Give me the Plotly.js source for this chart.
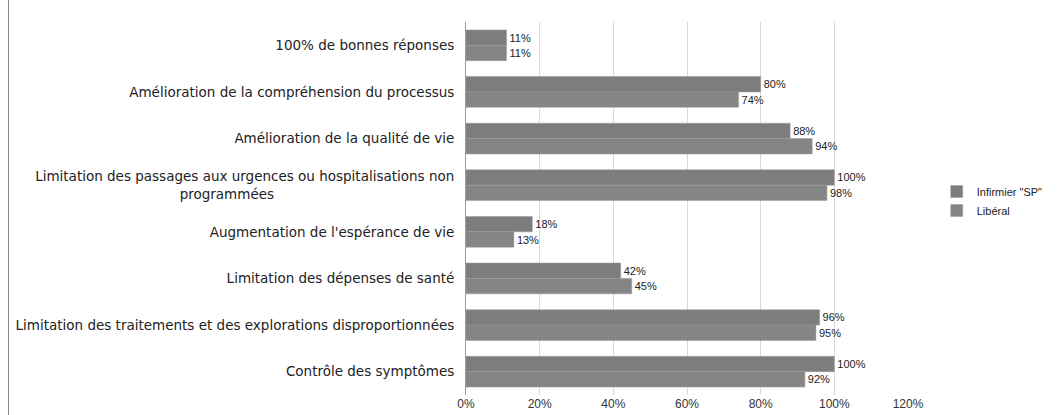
<!DOCTYPE html>
<html>
<head>
<meta charset="utf-8">
<script src="https://cdn.plot.ly/plotly-3.0.1.min.js"></script>
<style>
html,body{margin:0;padding:0;background:#fff;}
#frame{position:absolute;left:8px;top:0;width:1px;height:415px;background:#888;}
#chart{width:1060px;height:415px;}
</style>
</head>
<body>
<div id="chart"></div>
<div id="frame"></div>
<script>
const pad = '\u00a0'.repeat(42);
const categories = [
  "100% de bonnes réponses",
  "Amélioration de la compréhension du processus",
  "Amélioration de la qualité de vie",
  "Limitation des passages aux urgences ou hospitalisations non<br>programmées" + pad,
  "Augmentation de l'espérance de vie",
  "Limitation des dépenses de santé",
  "Limitation des traitements et des explorations disproportionnées",
  "Contrôle des symptômes"
];
const seriesNames = ["Infirmier \"SP\"", "Libéral"];
const valuesSP = [11, 80, 88, 100, 18, 42, 96, 100];
const valuesLib = [11, 74, 94, 98, 13, 45, 95, 92];
const tickVals = [0, 20, 40, 60, 80, 100, 120];
const tickText = ["0%", "20%", "40%", "60%", "80%", "100%", "120%"];

function mk(name, vals, color) {
  return {
    type: 'bar', orientation: 'h', name: name,
    x: vals, y: categories,
    text: vals.map(v => v + '%'),
    textposition: 'outside', cliponaxis: false,
    textfont: {family: 'Liberation Sans, Arial, sans-serif', size: 11, color: '#222'},
    marker: {color: color, line: {color: '#9a9a9a', width: 0.5}},
    hoverinfo: 'x+y'
  };
}

const data = [mk(seriesNames[0], valuesSP, '#7d7d7d'), mk(seriesNames[1], valuesLib, '#858585')];

const layout = {
  width: 1060, height: 415,
  margin: {l: 466, r: 140, t: 22, b: 20},
  paper_bgcolor: '#fff', plot_bgcolor: '#fff',
  barmode: 'group', bargap: 0.34, bargroupgap: 0,
  font: {family: 'Liberation Sans, Arial, sans-serif', size: 11, color: '#222'},
  xaxis: {
    range: [0, 120], tickvals: tickVals, ticktext: tickText,
    showgrid: true, gridcolor: '#d9d9d9', gridwidth: 1,
    zeroline: false, showline: false, ticks: '',
    tickfont: {size: 12, color: '#333'}
  },
  yaxis: {
    autorange: 'reversed', showline: true, linecolor: '#999', linewidth: 1,
    ticks: '', showgrid: false,
    tickfont: {family: 'DejaVu Sans, sans-serif', size: 13.5, color: '#222'}, ticklabelstandoff: 8
  },
  showlegend: true,
  legend: {x: 1.065, y: 0.52, xanchor: 'left', yanchor: 'middle',
    font: {size: 11, color: '#222'}, bgcolor: 'rgba(0,0,0,0)',
    itemwidth: 30, tracegroupgap: 2}
};

Plotly.newPlot('chart', data, layout, {displayModeBar: false, staticPlot: true});
</script>
</body>
</html>
